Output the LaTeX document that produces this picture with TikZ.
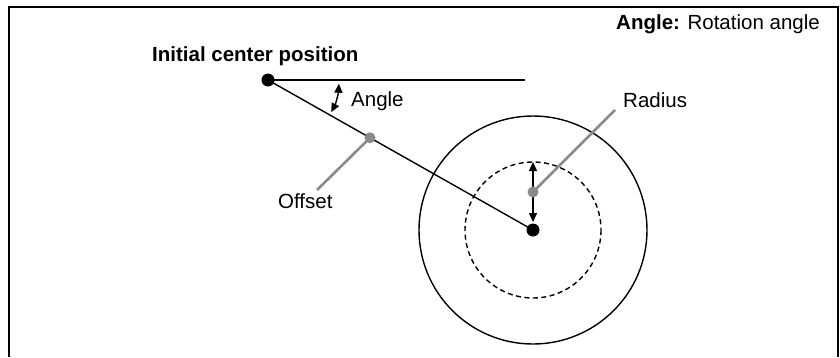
\documentclass[tikz,border=0pt]{standalone}
\usepackage{fontspec}
\setmainfont{Liberation Sans}
\usetikzlibrary{arrows.meta,calc}
\definecolor{leadgray}{HTML}{8A8A8A}
\tikzset{
  thinline/.style={line width=1.4pt, black},
  leader/.style={line width=2.6pt, leadgray},
  blackdot/.style={circle, fill=black, inner sep=0pt, minimum size=13pt},
  graydot/.style={circle, fill=leadgray, inner sep=0pt, minimum size=11pt},
  lbl/.style={anchor=base west, inner sep=0pt, font=\fontsize{20.5}{24}\selectfont},
  bothtips/.style={{Triangle[length=9pt,width=8pt]}-{Triangle[length=9pt,width=8pt]}},
}
\begin{document}
\begin{tikzpicture}[x=1pt,y=-1pt]
\useasboundingbox (0,0) rectangle (840,357);
% frame
\draw[line width=2pt] (9,357) -- (9,7) -- (838,7) -- (838,357);
% top-right legend
\node[anchor=base east, inner sep=0pt, font=\fontsize{20.5}{24}\selectfont] (legend) at (820,29) {\textbf{Angle:} Rotation angle};
% circles
\coordinate (cc) at (533,230);
\draw[thinline] (cc) circle[radius=114];
\draw[thinline, dash pattern=on 5pt off 3.5pt] (cc) circle[radius=68];
% main points
\node[blackdot] (init) at (268,80) {};
\node[blackdot] (center) at (533,230) {};
\coordinate (hend) at (525,80);
\draw[thinline] (init.center) -- (hend);
\draw[thinline] (init.center) -- (center.center);
% angle arc
\draw[thinline, bothtips] ([shift={(3:71)}]init.center) arc[start angle=3, end angle=27, radius=71];
% radius arrows
\coordinate (rtop) at (533,162);
\coordinate (rbot) at (533,222);
\draw[thinline, bothtips] (rtop) -- (rbot);
% offset leader
\coordinate (offp) at ($(init.center)!0.385!(center.center)$);
\coordinate (offend) at (317,190);
\draw[leader] (offp) -- (offend);
\node[graydot] (offdot) at (offp) {};
% radius leader
\coordinate (radend) at (615,110);
\coordinate (radp) at (533,192);
\draw[leader] (radp) -- (radend);
\node[graydot] (raddot) at (radp) {};
% labels
\node[lbl] (lblinit) at (152,61) {\textbf{Initial center position}};
\node[lbl] (lblangle) at (351,106) {Angle};
\node[lbl] (lbloffset) at (278,208) {Offset};
\node[lbl] (lblradius) at (623,107) {Radius};
\end{tikzpicture}
\end{document}
